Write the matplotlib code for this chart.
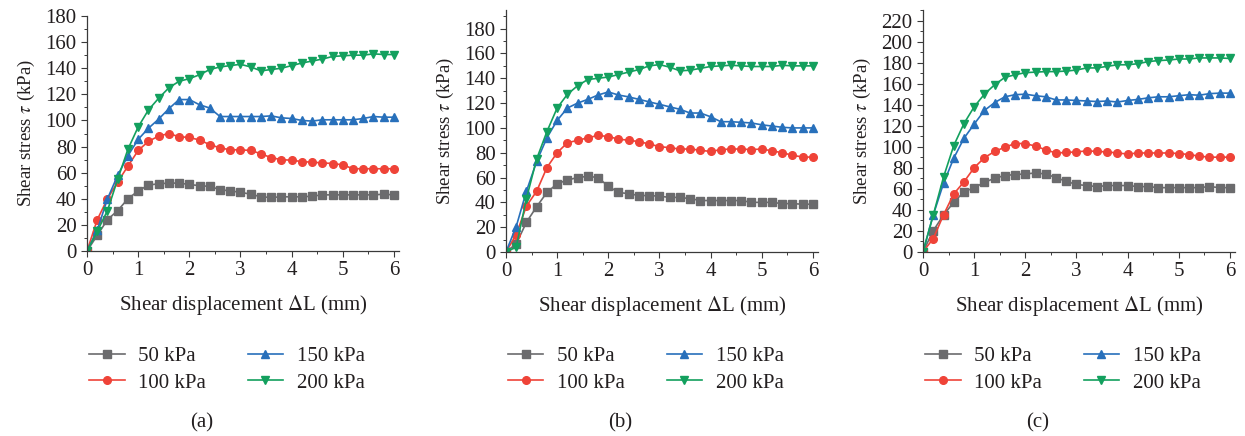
import numpy as np
import matplotlib.pyplot as plt
from matplotlib.ticker import MultipleLocator

plt.rcParams['font.family'] = ['Liberation Serif', 'DejaVu Serif']
plt.rcParams['mathtext.fontset'] = 'stix'

# displacement steps (mm)
disp = np.round(np.arange(0, 6.01, 0.2), 1)

labels = ['50 kPa', '100 kPa', '150 kPa', '200 kPa']
colors = ['#6b6b6d', '#ef4338', '#2870bb', '#13a05e']
markers = ['s', 'o', '^', 'v']

# (a)
a_50 = [0, 12, 24, 31, 40, 46, 50.5, 51.5, 52, 52, 51, 50, 49.5, 47, 46, 45,
        43.5, 41.5, 41, 41.5, 41.5, 41.5, 42, 43, 43, 43, 43, 43, 43, 43.5, 43]
a_100 = [0, 24, 40, 53, 65, 77, 84, 88, 90, 87.5, 87, 85, 81.5, 79, 77.5, 77.5,
         77, 74.5, 71.5, 70, 69.5, 68.5, 68, 67.5, 67, 66, 63, 63, 63, 63, 63]
a_150 = [0, 16, 40, 58, 73, 85.5, 94, 101, 109, 116, 116, 112, 109.5, 103, 103, 103,
         103, 103, 103.5, 102, 101.5, 100, 99.5, 100.5, 100.5, 100.5, 100.5, 101.5, 103, 102.5, 102.5]
a_200 = [0, 15, 31, 55, 78, 95, 108, 117, 125, 130, 132, 135, 139, 141, 142, 143,
         141, 138, 139, 140, 142, 144, 145.5, 147, 149, 149.5, 150, 150, 151, 150.5, 150.5]

# (b)
b_50 = [0, 6.5, 24, 36.5, 48, 55, 58, 60, 61, 60, 53, 48, 47, 45.5, 45.5, 45,
        44, 44, 43, 41.5, 41.5, 41.5, 41.5, 41.5, 40, 40, 40, 39, 39, 38.5, 38.5]
b_100 = [0, 14, 37, 49, 68, 80, 88, 90, 92, 94, 93, 91, 90, 89, 87, 85,
         84, 83, 83, 82, 81, 82.5, 83, 83, 82.5, 83, 81.5, 80, 78, 76.5, 76.5]
b_150 = [0, 20.5, 49, 73, 92, 106, 116, 120, 123, 126.5, 129, 126.5, 125, 123, 121, 119,
         117, 115, 112, 112, 109, 105, 105, 104.5, 104, 102.5, 101.5, 100.5, 100, 100, 100]
b_200 = [0, 4, 43, 75, 97, 116, 127, 134, 139, 140, 141, 143, 145, 147, 150, 151,
         149, 146, 146.5, 148, 149.5, 150, 150.5, 150, 149.5, 149.5, 149.5, 150.5, 150, 150, 150]

# (c)
c_50 = [0, 20, 35, 47, 57, 61, 66, 70, 72.5, 73.5, 74, 75, 74, 70.5, 67, 64,
        63, 62, 63, 63, 63, 62, 62, 61, 61, 61, 61, 61, 62, 61, 61]
c_100 = [0, 12.5, 35, 55, 66.5, 80, 89.5, 95.5, 99.5, 103, 103, 100.5, 97, 94, 94.5, 95,
         96, 95.5, 95, 94, 93, 94, 94, 94, 94, 93.5, 92.5, 91, 90, 90, 90]
c_150 = [0, 35, 65, 89, 108, 121.5, 134.5, 142, 147.5, 149.5, 150, 148.5, 147.5, 144.5, 144.5, 144,
         143.5, 143, 143.5, 142.5, 144, 145, 146.5, 147.5, 147.5, 148.5, 149.5, 149, 150.5, 151, 151]
c_200 = [0, 35, 71, 101, 122, 138, 150, 159, 166, 168.5, 170.5, 171, 171.5, 171.5, 172, 173,
         175, 175, 176.5, 178, 178, 179, 181, 182, 182.5, 183.5, 183.5, 184.5, 184.5, 184.5, 184]

panels = [
    ('(a)', [a_50, a_100, a_150, a_200], 180, [0.0699, 0.4243, 0.2506, 0.539]),
    ('(b)', [b_50, b_100, b_150, b_200], 195, [0.4064, 0.4220, 0.2506, 0.555]),
    ('(c)', [c_50, c_100, c_150, c_200], 230, [0.7414, 0.4227, 0.2506, 0.554]),
]

txt = '#231f20'
fig = plt.figure(figsize=(12.45, 4.36), dpi=100)

for name, series, ytop, rect in panels:
    ax = fig.add_axes(rect)
    for ys, lab, c, m in zip(series, labels, colors, markers):
        ax.plot(disp, ys, color=c, marker=m, markersize=5.5, linewidth=1.2, label=lab)
    ax.set_xlim(0, 6.1)
    ax.set_ylim(0, ytop)
    ax.xaxis.set_major_locator(MultipleLocator(1))
    ax.xaxis.set_minor_locator(MultipleLocator(0.5))
    ax.yaxis.set_major_locator(MultipleLocator(20))
    ax.yaxis.set_minor_locator(MultipleLocator(10))
    ax.spines['top'].set_visible(False)
    ax.spines['right'].set_visible(False)
    for s in ('left', 'bottom'):
        ax.spines[s].set_color('#3a3a3a')
        ax.spines[s].set_linewidth(0.9)
    ax.tick_params(which='major', length=4, width=0.8, color='#3a3a3a',
                   labelsize=15, labelcolor=txt)
    ax.tick_params(which='minor', length=2, width=0.7, color='#3a3a3a')
    ax.set_xlabel(r'Shear displacement $\Delta$L (mm)', fontsize=15, color=txt, labelpad=9)
    ax.set_ylabel(r'Shear stress $\tau$ (kPa)', fontsize=13.5, color=txt, labelpad=6)

    x0 = rect[0]
    ax.legend(loc='upper left', bbox_to_anchor=(x0 - 0.005, 0.225),
              bbox_transform=fig.transFigure, ncol=2, frameon=False,
              fontsize=15, handlelength=1.7, columnspacing=2.0,
              handletextpad=0.65, labelspacing=0.35, borderaxespad=0,
              labelcolor=txt)
    fig.text(x0 + 0.092, 0.02, name, fontsize=15, color=txt, ha='center')

fig.savefig('out.png', dpi=100)
